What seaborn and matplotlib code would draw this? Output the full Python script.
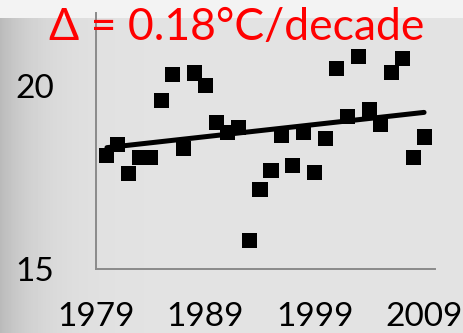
import numpy as np
import pandas as pd
import matplotlib
matplotlib.use("Agg")
import matplotlib.pyplot as plt
import seaborn as sns

# Annual mean temperature, 1980-2009
years = list(range(1980, 2010))
temps = [18.11, 18.41, 17.60, 18.06, 18.06, 19.61, 20.31, 18.30, 20.36, 20.01,
         19.00, 18.72, 18.87, 15.79, 17.17, 17.70, 18.64, 17.82, 18.72, 17.63,
         18.58, 20.47, 19.17, 20.80, 19.36, 18.95, 20.38, 20.76, 18.04, 18.61]
x_ticks = [1979, 1989, 1999, 2009]
y_ticks = [15, 20]
title = "\u0394 = 0.18\u00b0C/decade"

df = pd.DataFrame({"year": years, "temp": temps})

sns.set_style("white")
plt.rcParams["font.family"] = ["Lato", "DejaVu Sans"]

fig = plt.figure(figsize=(4.63, 3.33), dpi=100)
fig.patch.set_facecolor("#e3e3e3")

# soft grey backdrop: darker towards the left edge, light band along the top
bg = fig.add_axes([0, 0, 1, 1], zorder=-10)
h, w = 333, 463
xx = np.linspace(0, 1, w)
shade = 0.89 - 0.16 * np.exp(-xx / 0.08)
img = np.tile(shade, (h, 1))
img[:18, :] = 0.95
bg.imshow(img, cmap="gray", vmin=0, vmax=1, aspect="auto", extent=[0, 1, 0, 1])
bg.set_axis_off()

ax = fig.add_axes([96 / 463, 1 - 269 / 333, (435 - 96) / 463, (269 - 13) / 333])
ax.set_facecolor("none")

sns.regplot(data=df, x="year", y="temp", ax=ax, ci=None, marker="s",
            scatter_kws=dict(s=118, color="black", edgecolors="none", alpha=1),
            line_kws=dict(color="black", lw=3.6, solid_capstyle="round"))

ax.set_xlim(1979, 2010)
ax.set_ylim(15, 22)
ax.set_xticks(x_ticks)
ax.set_yticks(y_ticks)
ax.set_xlabel("")
ax.set_ylabel("")
for side in ("top", "right"):
    ax.spines[side].set_visible(False)
for side in ("left", "bottom"):
    ax.spines[side].set_color("#8a8a8a")
    ax.spines[side].set_linewidth(1.4)
ax.tick_params(axis="both", direction="out", length=9, width=1.4,
               color="#8a8a8a", labelsize=24, labelcolor="black")
ax.tick_params(axis="x", pad=15)
ax.tick_params(axis="y", pad=21)

fig.text(237 / 463, 1 - 28 / 333, title, color="#ff0000", fontsize=32,
         ha="center", va="center")

fig.savefig("out.png", dpi=100, facecolor=fig.get_facecolor())
